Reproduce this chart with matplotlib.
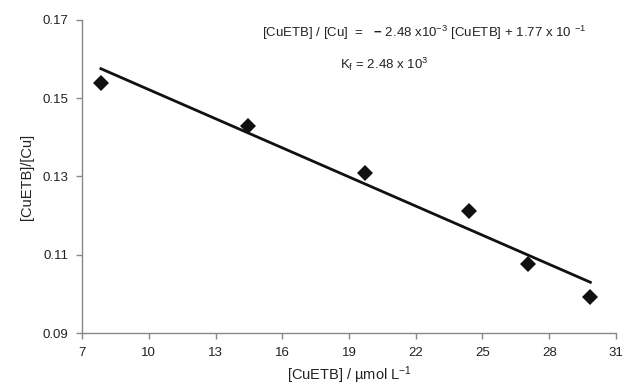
import numpy as np
import matplotlib
matplotlib.use('Agg')
import matplotlib.pyplot as plt

plt.rcParams['font.family'] = ['Liberation Sans', 'DejaVu Sans']
plt.rcParams['mathtext.fontset'] = 'custom'
plt.rcParams['mathtext.rm'] = 'Liberation Sans'
plt.rcParams['mathtext.it'] = 'Liberation Sans'
plt.rcParams['mathtext.bf'] = 'Liberation Sans:bold'

# data
cuetb = [7.85, 14.45, 19.7, 24.4, 27.05, 29.85]
ratio = [0.1540, 0.1430, 0.1310, 0.1212, 0.1076, 0.0993]
slope = -2.48e-3
intercept = 1.77e-1

xticks = [7, 10, 13, 16, 19, 22, 25, 28, 31]
yticks = [0.09, 0.11, 0.13, 0.15, 0.17]

fig = plt.figure(figsize=(6.26, 3.9), dpi=100)
ax = fig.add_axes([0.131, 0.146, 0.853, 0.803])

xfit = np.array([cuetb[0], cuetb[-1]])
ax.plot(xfit, slope * xfit + intercept, color='#111111', lw=2.0)
ax.plot(cuetb, ratio, 'D', color='#111111', ms=8, mew=0)

ax.set_xlim(7, 31)
ax.set_ylim(0.09, 0.17)
ax.set_xticks(xticks)
ax.set_yticks(yticks)
ax.set_yticklabels(['%.2f' % v for v in yticks])

for s in ['top', 'right']:
    ax.spines[s].set_visible(False)
for s in ['left', 'bottom']:
    ax.spines[s].set_color('#888888')
    ax.spines[s].set_linewidth(1.0)
ax.tick_params(direction='out', length=4, width=1.0, color='#888888',
               labelsize=9.5, labelcolor='#222222', pad=6)

ax.set_xlabel('[CuETB] / µmol L$^{-1}$', fontsize=10.5, color='#222222', labelpad=4)
ax.set_ylabel('[CuETB]/[Cu]', fontsize=10.5, color='#222222', labelpad=6)

fig.text(262 / 626, 1 - 33 / 390,
         '[CuETB] / [Cu]  =   $\\mathbf{-}$ 2.48 x10$^{-3}$ [CuETB] + 1.77 x 10 $^{-1}$',
         fontsize=9.5, color='#222222', va='center')
fig.text(340 / 626, 1 - 64 / 390, 'K$_{f}$ = 2.48 x 10$^{3}$', fontsize=9.5,
         color='#222222', va='center')

fig.savefig('out.png', dpi=100)
